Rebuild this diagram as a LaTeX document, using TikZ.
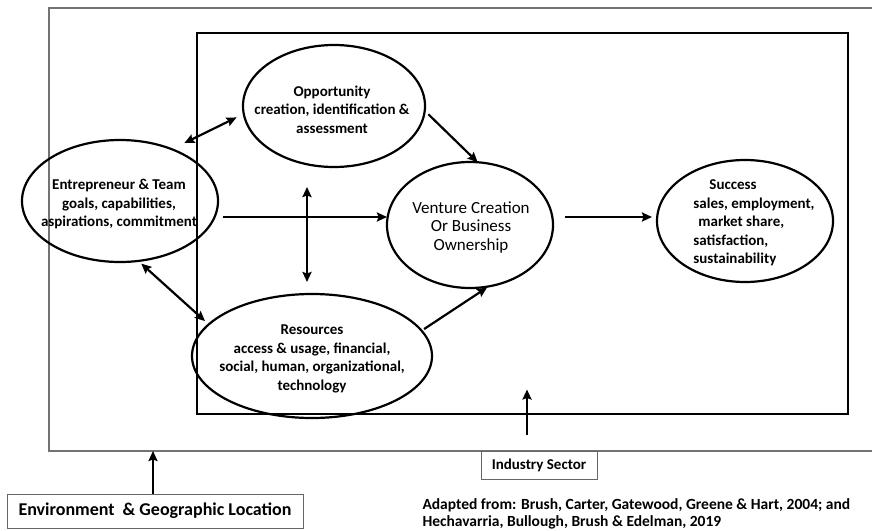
\documentclass[tikz,border=0pt]{standalone}
\usepackage{fontspec}
\setmainfont{Carlito}
\usetikzlibrary{arrows.meta,shapes.geometric}

\begin{document}
\begin{tikzpicture}[
  x=1pt, y=-1pt, line width=1pt,
  oval/.style={ellipse, draw, line width=2.2pt, inner sep=0pt, outer sep=0pt},
  lbl/.style={align=center, inner sep=0pt, font=\bfseries\fontsize{15}{18.5}\selectfont},
  tag/.style={draw=black!60, line width=1pt, inner sep=0pt, font=\bfseries\fontsize{15}{18}\selectfont},
  arr/.style={line width=2.2pt, -{Stealth[length=10pt,width=9pt,inset=1.5pt]}},
  dbl/.style={line width=2.2pt, {Stealth[length=10pt,width=9pt,inset=1.5pt]}-{Stealth[length=10pt,width=9pt,inset=1.5pt]}},
]
  \useasboundingbox (0,0) rectangle (872,530);

  % Frames: environment (runs off to the right) and industry sector.
  \node[draw=black!55, line width=1.6pt, minimum width=836pt, minimum height=443pt,
    inner sep=0pt, outer sep=0pt] (outer) at (467,229.5) {};
  \node[draw, line width=1.4pt, minimum width=651pt, minimum height=381pt,
    inner sep=0pt, outer sep=0pt] (inner) at (522.5,223.5) {};

  % The five ovals, drawn empty; their texts sit on top.
  \node[oval, minimum width=182pt, minimum height=122pt] (opp)  at (334,106) {};
  \node[oval, minimum width=196pt, minimum height=122pt] (entr) at (120,201) {};
  \node[oval, minimum width=166pt, minimum height=126pt] (ven)  at (470,225) {};
  \node[oval, minimum width=176pt, minimum height=122pt] (succ) at (745,221) {};
  \node[oval, minimum width=240pt, minimum height=124pt] (res)  at (312,356) {};

  \node[lbl] (opptext) at (332,109.5) {Opportunity\\creation, identification \&\\assessment};
  \node[lbl] (entrtext) at (119,204) {Entrepreneur \& Team\\goals, capabilities,\\aspirations, commitment};
  \node[lbl, font=\fontsize{17}{18.5}\selectfont] (ventext) at (471,227)
    {Venture Creation\\Or Business\\Ownership};
  \node[lbl, align=left] (succtext) at (754,223)
    {\hspace*{16pt}Success\\sales, employment,\\\hspace*{5pt}market share,\\satisfaction,\\sustainability};
  \node[lbl] (restext) at (312,359)
    {Resources\\access \& usage, financial,\\social, human, organizational,\\technology};

  % Boxes below the frames, and the source note.
  \node[tag, minimum width=116pt, minimum height=28pt] (ind) at (539,465) {Industry Sector};
  \node[tag, minimum width=296pt, minimum height=34pt, font=\bfseries\fontsize{18}{20}\selectfont]
    (env) at (155,511) {Environment\ \ \& Geographic Location};
  \node[anchor=north west, align=left, inner sep=0pt, font=\bfseries\fontsize{15.5}{17}\selectfont]
    (src) at (422,498) {Adapted from: Brush, Carter, Gatewood, Greene \& Hart, 2004; and\\
    Hechavarria, Bullough, Brush \& Edelman, 2019};

  % Links.
  \draw[dbl, shorten <=14pt, shorten >=8pt] (entr.45) -- (opp.185);
  \draw[arr, shorten <=5pt] (opp.-3) -- (ven.83);
  \coordinate (etail) at ([xshift=5pt,yshift=-16pt]entr.east);
  \draw[arr] (etail) -- (etail -| ven.west);
  \draw[dbl] ([xshift=-27pt,yshift=-20pt]opp.south) -- ([xshift=-5pt,yshift=12pt]res.north);
  \draw[dbl, shorten <=4pt, shorten >=5pt] (entr.-73) -- (res.163);
  \draw[arr, shorten <=3pt, shorten >=2pt] (res.13) -- (ven.-73);
  \coordinate (vtail) at ([xshift=12pt,yshift=8pt]ven.east);
  \draw[arr, shorten >=5pt] (vtail) -- (vtail -| succ.west);
  \coordinate (indtail) at ([xshift=-12pt,yshift=16pt]ind.north);
  \draw[arr] (indtail) -- ++(0,-45);
  \coordinate (envtop) at ([xshift=-2pt]env.north);
  \draw[arr] (envtop) -- (envtop |- outer.south);
\end{tikzpicture}
\end{document}
